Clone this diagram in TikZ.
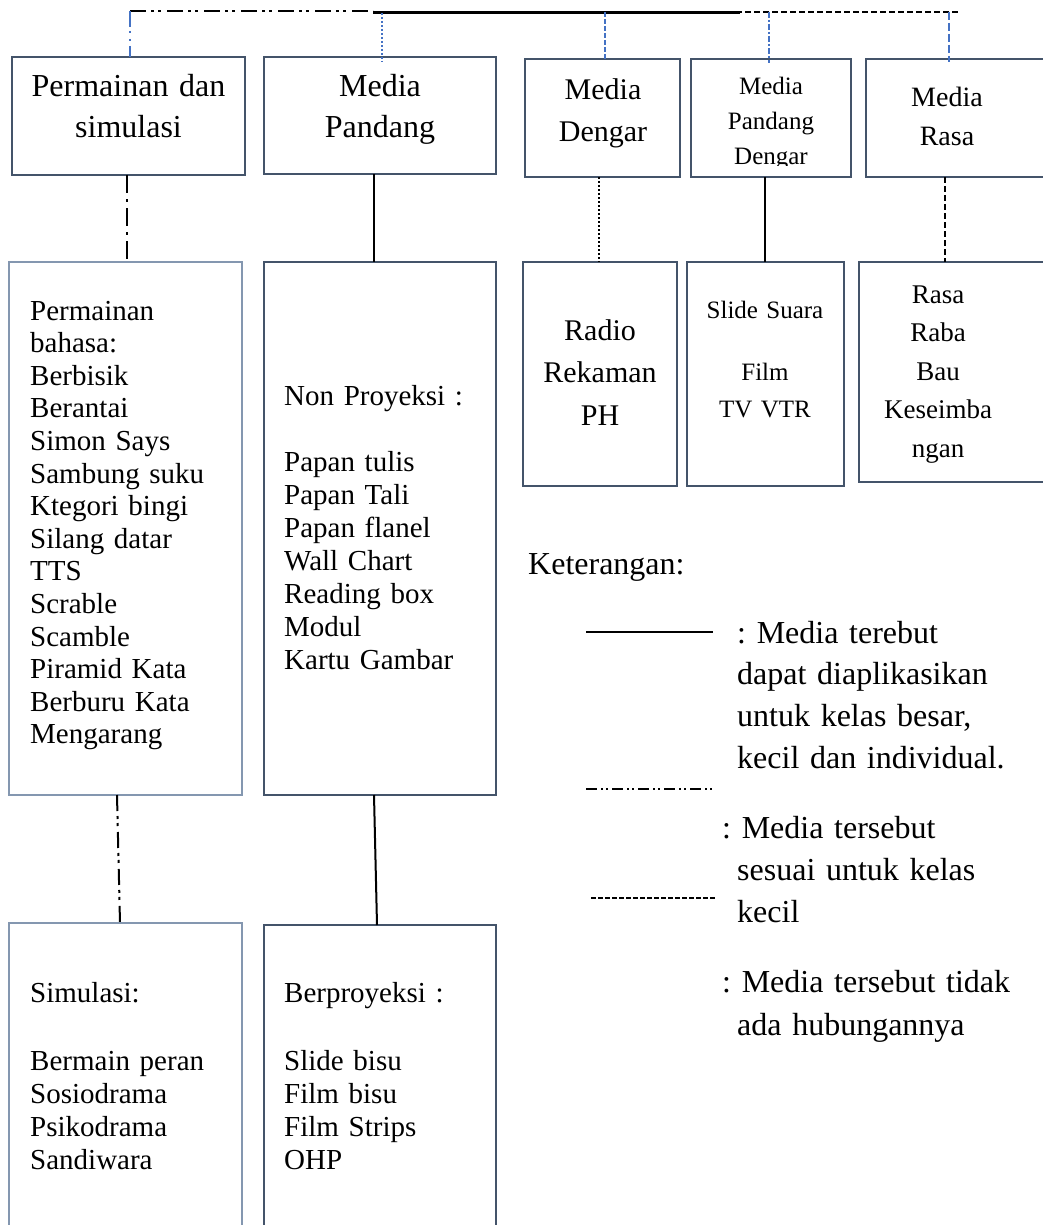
\documentclass[tikz,border=0pt]{standalone}
\usepackage{fontspec}
\setmainfont{Liberation Serif}
\newcommand\fsz[2]{\fontsize{#1}{#2}\selectfont}
\definecolor{boxc}{RGB}{68,84,106}
\definecolor{boxl}{RGB}{132,151,176}
\definecolor{dropc}{RGB}{68,114,196}
\begin{document}
\frenchspacing
\begin{tikzpicture}[x=1pt,y=-1pt,
  box/.style={draw=boxc, line width=1.3pt, inner sep=0pt, outer sep=0pt, anchor=north west},
  boxlt/.style={box, draw=boxl},
  conn/.style={line width=2pt, black},
  ddot/.style={dash pattern=on 16pt off 5pt on 3pt off 4pt on 3pt off 6pt},
  dashdot/.style={dash pattern=on 18pt off 6pt on 3pt off 6pt},
  shortdash/.style={dash pattern=on 6pt off 3pt},
  dotline/.style={dash pattern=on 2pt off 2pt},
  drop/.style={line width=2pt, dropc},
  ctxt/.style={inner sep=0pt, anchor=base, align=center, text width=200pt},
  ltxt/.style={inner sep=0pt, anchor=base west, align=left, text width=230pt},
]
\clip (0,0) rectangle (1043,1225);
\fill[white] (0,0) rectangle (1043,1225);

% ---------- boxes ----------
\node[box, minimum width=233pt, minimum height=118pt] (b1) at (12,57) {};
\node[box, minimum width=232pt, minimum height=117pt] (b2) at (264,57) {};
\node[box, minimum width=155pt, minimum height=118pt] (b3) at (525,59) {};
\node[box, minimum width=160pt, minimum height=118pt] (b4) at (691,59) {};
\node[box, minimum width=200pt, minimum height=118pt] (b5) at (866,59) {};

\node[boxlt, minimum width=233pt, minimum height=533pt] (l2) at (9,262) {};
\node[box, minimum width=232pt, minimum height=533pt] (p2) at (264,262) {};
\node[box, minimum width=154pt, minimum height=224pt] (r1) at (523,262) {};
\node[box, minimum width=157pt, minimum height=224pt] (r2) at (687,262) {};
\node[box, minimum width=200pt, minimum height=220pt] (r3) at (859,262) {};

\node[boxlt, minimum width=233pt, minimum height=400pt] (s1) at (9,923) {};
\node[box, minimum width=232pt, minimum height=400pt] (s2) at (264,925) {};

% ---------- top line ----------
\coordinate (t0) at (130,11);
\coordinate (t1) at (373,11);
\coordinate (t2) at (373,12.5);
\coordinate (t3) at (740,12.5);
\coordinate (t4) at (727,12);
\coordinate (t5) at (960,12);
\draw[line width=2.5pt, ddot] (t0) -- (t1);
\draw[line width=2.5pt] (t2) -- (t3);
\draw[line width=2.5pt, shortdash] (t4) -- (t5);

% ---------- blue drops ----------
\coordinate (d2) at (382,13);
\coordinate (d3) at (605,12);
\coordinate (d4) at (769,12);
\coordinate (d5) at (949,12);
\draw[drop, dash pattern=on 16pt off 4pt on 2pt off 6pt on 2pt off 5pt] (t0) -- (t0 |- b1.north);
\draw[drop, dotline] (d2) -- ([yshift=-5pt]d2 |- b2.north);
\draw[drop, dash pattern=on 5pt off 2pt] (d3) -- (d3 |- b3.north);
\draw[drop, dash pattern=on 6pt off 2pt on 2pt off 2pt] (d4) -- ([yshift=-4pt]d4 |- b4.north);
\draw[drop, dash pattern=on 8pt off 3pt] (d5) -- ([yshift=-3pt]d5 |- b5.north);

% ---------- row connectors ----------
\coordinate (c1) at (127,0);
\coordinate (c2) at (374,0);
\coordinate (c3) at (599,0);
\coordinate (c4) at (765,0);
\coordinate (c5) at (945,0);
\draw[conn, dashdot] (c1 |- b1.south) -- (c1 |- l2.north);
\draw[conn] (c2 |- b2.south) -- (c2 |- p2.north);
\draw[conn, line width=1.6pt, dotline] (c3 |- b3.south) -- (c3 |- r1.north);
\draw[conn] (c4 |- b4.south) -- (c4 |- r2.north);
\draw[conn, shortdash] (c5 |- b5.south) -- (c5 |- r3.north);

\coordinate (k1) at (117,0);
\coordinate (k2) at (120,0);
\coordinate (k3) at (374,0);
\coordinate (k4) at (377,0);
\draw[conn, ddot] (l2.south -| k1) -- (s1.north -| k2);
\draw[conn] (p2.south -| k3) -- (s2.north -| k4);

% ---------- header texts ----------
\node[ctxt, font=\fsz{32}{41}] (h1) at (128.5,97) {Permainan dan\\simulasi};
\node[ctxt, font=\fsz{32}{41}] (h2) at (380,97) {Media\\Pandang};
\node[ctxt, font=\fsz{30}{42}] (h3) at (603,100) {Media\\Dengar};
\begin{scope}
  \clip (691,59) rectangle (851,166);
  \node[ctxt, font=\fsz{25}{35}] (h4) at (771,95) {Media\\Pandang\\Dengar};
\end{scope}
\node[ctxt, font=\fsz{28}{39}] (h5) at (947,107) {Media\\Rasa};

% ---------- row 2 texts ----------
\node[ltxt, font=\fsz{29}{32.6}] (tl2) at (30,320) {Permainan\\bahasa:\\Berbisik\\Berantai\\Simon Says\\Sambung suku\\Ktegori bingi\\Silang datar\\TTS\\Scrable\\Scamble\\Piramid Kata\\Berburu Kata\\Mengarang};
\node[ltxt, font=\fsz{29}{33}] (tp2) at (284,405) {Non Proyeksi :\\[33pt]Papan tulis\\Papan Tali\\Papan flanel\\Wall Chart\\Reading box\\Modul\\Kartu Gambar};
\node[ctxt, font=\fsz{30}{42.5}] (tr1) at (600,340) {Radio\\Rekaman\\PH};
\node[ctxt, font=\fsz{25}{37}] (tr2) at (765,318) {Slide Suara\\[25pt]Film\\TV VTR};
\node[ctxt, font=\fsz{27}{38.5}] (tr3) at (938,303) {Rasa\\Raba\\Bau\\Keseimba\\ngan};

% ---------- row 3 texts ----------
\node[ltxt, font=\fsz{29}{33}] (ts1) at (30,1002) {Simulasi:\\[35pt]Bermain peran\\Sosiodrama\\Psikodrama\\Sandiwara};
\node[ltxt, font=\fsz{29}{33}] (ts2) at (284,1002) {Berproyeksi :\\[35pt]Slide bisu\\Film bisu\\Film Strips\\OHP};

% ---------- legend ----------
\node[ltxt, font=\fsz{32}{41}] (ket) at (528,574) {Keterangan:};
\coordinate (la) at (586,632);
\coordinate (lb) at (713,632);
\coordinate (lc) at (586,789);
\coordinate (ld) at (713,789);
\coordinate (le) at (591,898);
\coordinate (lf) at (717,898);
\draw[line width=2pt] (la) -- (lb);
\draw[line width=2pt, dash pattern=on 11pt off 4pt on 2pt off 3pt on 2pt off 4pt] (lc) -- (ld);
\draw[line width=1.5pt, dash pattern=on 4.5pt off 2.5pt] (le) -- (lf);
\node[ltxt, text width=300pt, font=\fsz{32}{41.7}] (k1t) at (737,643) {: Media terebut\\dapat diaplikasikan\\untuk kelas besar,\\kecil dan individual.};
\node[ltxt, text width=320pt, font=\fsz{32}{42}] (k2t) at (722,838) {: Media tersebut\\\hspace*{15pt}sesuai untuk kelas\\\hspace*{15pt}kecil};
\node[ltxt, text width=320pt, font=\fsz{32}{43}] (k3t) at (722,992) {: Media tersebut tidak\\\hspace*{15pt}ada hubungannya};
\end{tikzpicture}
\end{document}
